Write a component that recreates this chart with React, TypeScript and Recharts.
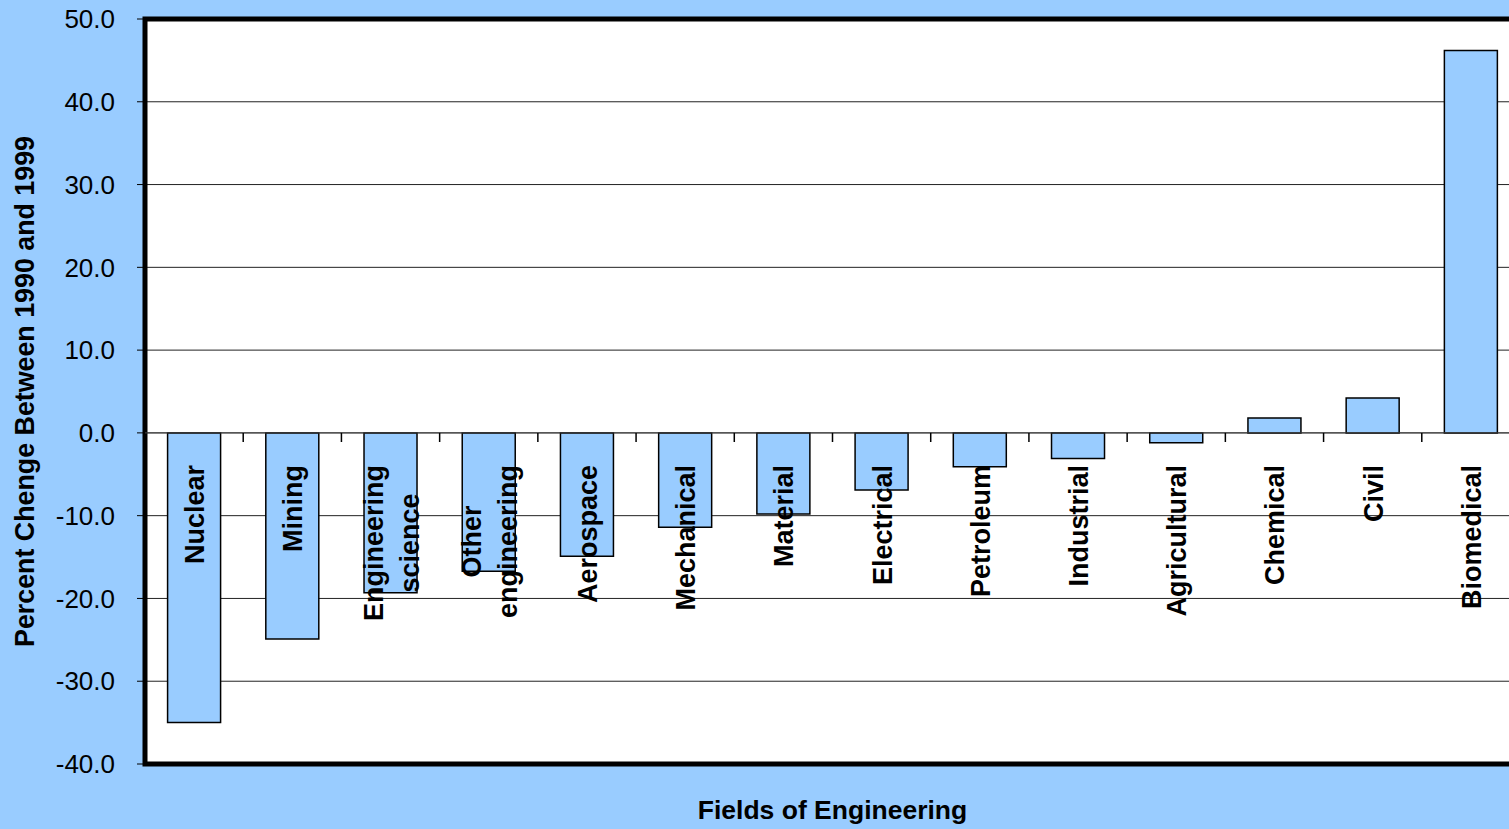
import { BarChart, Bar, XAxis, YAxis, CartesianGrid, ReferenceArea, ReferenceLine, LabelList, Label } from 'recharts';

const categories = [
    'Nuclear',
    'Mining',
    'Engineering science',
    'Other engineering',
    'Aerospace',
    'Mechanical',
    'Material',
    'Electrical',
    'Petroleum',
    'Industrial',
    'Agricultural',
    'Chemical',
    'Civil',
    'Biomedical',
];

const percentChange = [-35.0, -24.9, -19.3, -16.7, -14.9, -11.4, -9.8, -6.9, -4.1, -3.1, -1.2, 1.8, 4.2, 46.2];

const yTicks = [-40, -30, -20, -10, 0, 10, 20, 30, 40, 50];

const data = categories.map((name, i) => ({ name, change: percentChange[i] }));

const FONT = 'Arial, "Liberation Sans", sans-serif';
const BG = '#99CCFF';

let measureCtx: CanvasRenderingContext2D | null = null;
function textWidth(s: string, font: string) {
    if (!measureCtx) {
        measureCtx = document.createElement('canvas').getContext('2d');
    }
    if (!measureCtx) return s.length * 15;
    measureCtx.font = font;
    return measureCtx.measureText(s).width;
}

// category names sit just under the zero line, rotated, like the original
function CategoryLabel(props: any) {
    const { viewBox, value } = props;
    const idx = categories.indexOf(value);
    const v = percentChange[idx] ?? 0;
    const { x, y, width, height } = viewBox;
    const cx = x + width / 2;
    const zeroY = v < 0 ? Math.min(y, y + height) : Math.max(y, y + height);
    const lines = String(value).split(' ');
    const fontSize = 27;
    const maxW = Math.max(...lines.map((l) => textWidth(l, `bold ${fontSize}px ${FONT}`)));
    const yc = zeroY + 32 + maxW / 2;
    const lineGap = 36;
    return (
        <g>
            {lines.map((line, i) => {
                const bx = cx + 10 + (i - (lines.length - 1) / 2) * lineGap;
                return (
                    <text
                        key={line}
                        x={bx}
                        y={yc}
                        transform={`rotate(-90, ${bx}, ${yc})`}
                        textAnchor="middle"
                        fontFamily={FONT}
                        fontWeight="bold"
                        fontSize={fontSize}
                        fill="#000"
                    >
                        {line}
                    </text>
                );
            })}
        </g>
    );
}

export default function App() {
    return (
        <div style={{ position: 'absolute', left: 0, top: 0, width: 1509, height: 829, overflow: 'hidden', background: BG }}>
            <BarChart
                width={1530}
                height={829}
                data={data}
                margin={{ top: 19, right: 10, bottom: 0, left: 0 }}
                barCategoryGap="23%"
            >
                <CartesianGrid vertical={false} stroke="#222" fill="#fff" fillOpacity={1} />
                <XAxis dataKey="name" height={65} tick={false} tickLine={false} axisLine={false}>
                    <Label
                        content={(p: any) => {
                            const vb = p.viewBox;
                            return (
                                <text
                                    x={vb.x + vb.width / 2}
                                    y={vb.y + 55}
                                    textAnchor="middle"
                                    fontFamily={FONT}
                                    fontWeight="bold"
                                    fontSize={26.5}
                                    fill="#000"
                                >
                                    Fields of Engineering
                                </text>
                            );
                        }}
                    />
                </XAxis>
                <YAxis
                    width={145}
                    domain={[-40, 50]}
                    ticks={yTicks}
                    interval={0}
                    allowDataOverflow
                    tickFormatter={(v: number) => v.toFixed(1)}
                    tick={{ fill: '#000', fontSize: 26, fontFamily: FONT }}
                    tickSize={8}
                    tickMargin={22}
                    tickLine={{ stroke: '#000' }}
                    axisLine={false}
                >
                    <Label
                        content={(p: any) => {
                            const vb = p.viewBox;
                            const tx = vb.x + 34;
                            const ty = vb.y + vb.height / 2;
                            return (
                                <text
                                    x={tx}
                                    y={ty}
                                    transform={`rotate(-90, ${tx}, ${ty})`}
                                    textAnchor="middle"
                                    fontFamily={FONT}
                                    fontWeight="bold"
                                    fontSize={26.8}
                                    fill="#000"
                                >
                                    Percent Chenge Between 1990 and 1999
                                </text>
                            );
                        }}
                    />
                </YAxis>
                <ReferenceLine y={0} stroke="#444" strokeWidth={1} />
                {categories.map((c) => (
                    <ReferenceLine
                        key={c}
                        segment={[{ x: c, y: 0 }, { x: c, y: -1.1 }]}
                        position="end"
                        stroke="#000"
                        strokeWidth={1.5}
                    />
                ))}
                <Bar dataKey="change" fill={BG} stroke="#000" strokeWidth={1.5} isAnimationActive={false}>
                    <LabelList dataKey="name" content={CategoryLabel} />
                </Bar>
                <ReferenceArea y1={-40} y2={50} fill="none" stroke="#000" strokeWidth={5} />
            </BarChart>
        </div>
    );
}
